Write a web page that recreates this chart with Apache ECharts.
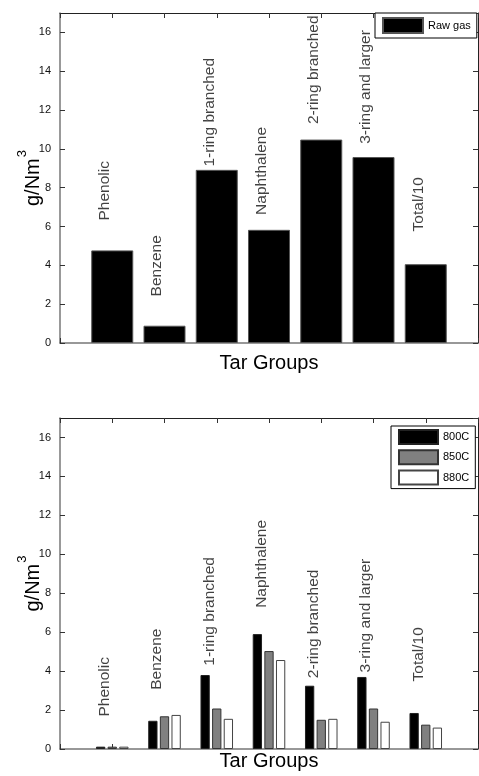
<!DOCTYPE html>
<html>
<head>
<meta charset="utf-8">
<title>Tar groups</title>
<script src="https://cdn.jsdelivr.net/npm/echarts@6/dist/echarts.min.js"></script>
<style>
  html, body { margin: 0; padding: 0; background: #fff; }
  #chart { width: 479px; height: 776px; }
</style>
</head>
<body>
<div id="chart"></div>
<script>
  // tar groups (one bar group each)
  var categories = ['Phenolic', 'Benzene', '1-ring branched', 'Naphthalene', '2-ring branched', '3-ring and larger', 'Total/10'];
  // upper chart: raw gas, g/Nm3
  var rawGas = [4.77, 0.89, 8.92, 5.83, 10.48, 9.58, 4.06];
  // lower chart: after reforming at three temperatures
  var t800 = [0.12, 1.45, 3.8, 5.9, 3.25, 3.7, 1.85];
  var t850 = [0.12, 1.68, 2.08, 5.03, 1.5, 2.08, 1.25];
  var t880 = [0.12, 1.75, 1.55, 4.57, 1.55, 1.4, 1.1];
  // height (g/Nm3) where each rotated group name starts
  var rawLabelY = [6.31, 2.40, 9.09, 6.60, 11.28, 10.26, 5.75];
  var tempLabelY = [1.67, 3.04, 4.28, 7.25, 3.64, 3.93, 3.47];
  // y axis ticks
  var yMin = 0, yMax = 17, yStep = 2;

  var fontName = '"Liberation Sans", Arial, Helvetica, sans-serif';

  // empty slots on both ends so the groups sit at 1..7 of 0..8
  var axisCats = [''].concat(categories).concat(['']);
  function pad(arr) {
    return ['-'].concat(arr).concat(['-']);
  }
  function labelPoints(ys) {
    return ys.map(function (y, i) {
      return { name: categories[i], value: [i + 1, y] };
    });
  }

  function xAxes(gridIndex, nameGap) {
    var base = {
      gridIndex: gridIndex,
      type: 'category',
      data: axisCats,
      boundaryGap: false,
      axisLabel: { show: false, interval: 0 },
      axisTick: { show: true, inside: true, length: 5, interval: 0, lineStyle: { color: '#333' } },
      splitLine: { show: false }
    };
    var bottom = Object.assign({}, base, {
      position: 'bottom',
      axisLine: { show: true, onZero: false, lineStyle: { color: '#777', width: 1.5 } },
      name: 'Tar Groups',
      nameLocation: 'middle',
      nameGap: nameGap,
      nameMoveOverlap: false,
      nameTextStyle: { fontSize: 20, color: '#000', fontFamily: fontName }
    });
    var top = Object.assign({}, base, {
      position: 'top',
      axisLine: { show: true, onZero: false, lineStyle: { color: '#222', width: 1 } }
    });
    return [bottom, top];
  }

  function yAxes(gridIndex) {
    var base = {
      gridIndex: gridIndex,
      type: 'value',
      min: yMin,
      max: yMax,
      interval: yStep,
      splitLine: { show: false },
      axisTick: { show: true, inside: true, length: 5, lineStyle: { color: '#333' } }
    };
    var left = Object.assign({}, base, {
      position: 'left',
      axisLine: { show: true, lineStyle: { color: '#777', width: 1.5 } },
      axisLabel: { show: true, fontSize: 11, color: '#111', margin: 9, fontFamily: fontName, showMaxLabel: false,
        formatter: function (v) { return v % yStep === 0 ? v : ''; } },
      name: '{n|g/Nm}{sup|3}',
      nameLocation: 'middle',
      nameGap: 17,
      nameMoveOverlap: false,
      nameTextStyle: {
        rich: {
          n: { fontSize: 20, color: '#000', fontFamily: fontName, verticalAlign: 'bottom' },
          sup: { fontSize: 13, color: '#000', fontFamily: fontName, verticalAlign: 'top', padding: [0, 0, 14, 1] }
        }
      }
    });
    var right = Object.assign({}, base, {
      position: 'right',
      axisLine: { show: true, lineStyle: { color: '#222', width: 1 } },
      axisLabel: { show: false }
    });
    return [left, right];
  }

  // rotated group names, drawn as invisible points
  function nameSeries(xi, yi, ys) {
    return {
      type: 'scatter',
      xAxisIndex: xi,
      yAxisIndex: yi,
      symbolSize: 0,
      silent: true,
      label: {
        show: true,
        position: 'inside',
        formatter: '{b}',
        rotate: 90,
        align: 'left',
        verticalAlign: 'middle',
        offset: [0, -7.5],
        fontSize: 15.5,
        color: '#111',
        fontFamily: fontName
      },
      data: labelPoints(ys)
    };
  }

  var legendBase = {
    orient: 'vertical',
    itemWidth: 40,
    itemHeight: 15,
    borderColor: '#000',
    borderWidth: 1,
    backgroundColor: '#fff',
    borderRadius: 0,
    icon: 'rect',
    textStyle: { fontSize: 11, color: '#000', fontFamily: fontName }
  };

  var chart = echarts.init(document.getElementById('chart'), null, { renderer: 'canvas' });
  chart.setOption({
    animation: false,
    backgroundColor: '#fff',
    grid: [
      { left: 60, top: 13, width: 418, height: 330, containLabel: false, outerBoundsMode: 'none' },
      { left: 60, top: 418, width: 418, height: 331, containLabel: false, outerBoundsMode: 'none' }
    ],
    legend: [
      Object.assign({}, legendBase, {
        left: 375, top: 13, padding: [4, 6, 4, 7], itemGap: 4,
        data: ['Raw gas']
      }),
      Object.assign({}, legendBase, {
        left: 391, top: 426, padding: [3, 6, 3, 7], itemGap: 4.3, itemHeight: 14, itemWidth: 39,
        data: ['800C', '850C', '880C']
      })
    ],
    xAxis: xAxes(0, 10).concat(xAxes(1, 2)),
    yAxis: yAxes(0).concat(yAxes(1)),
    series: [
      {
        name: 'Raw gas',
        type: 'bar',
        xAxisIndex: 0,
        yAxisIndex: 0,
        barWidth: 42,
        itemStyle: { color: '#000', borderColor: '#555', borderWidth: 1 },
        data: pad(rawGas)
      },
      nameSeries(0, 0, rawLabelY),
      {
        name: '800C',
        type: 'bar',
        xAxisIndex: 2,
        yAxisIndex: 2,
        barWidth: 9.3,
        barGap: '25%',
        itemStyle: { color: '#000', borderColor: '#222', borderWidth: 1 },
        data: pad(t800)
      },
      {
        name: '850C',
        type: 'bar',
        xAxisIndex: 2,
        yAxisIndex: 2,
        barWidth: 9.3,
        barGap: '25%',
        itemStyle: { color: '#808080', borderColor: '#333', borderWidth: 1 },
        data: pad(t850)
      },
      {
        name: '880C',
        type: 'bar',
        xAxisIndex: 2,
        yAxisIndex: 2,
        barWidth: 9.3,
        barGap: '25%',
        itemStyle: { color: '#fff', borderColor: '#444', borderWidth: 1 },
        data: pad(t880)
      },
      nameSeries(2, 2, tempLabelY)
    ]
  });
</script>
</body>
</html>
